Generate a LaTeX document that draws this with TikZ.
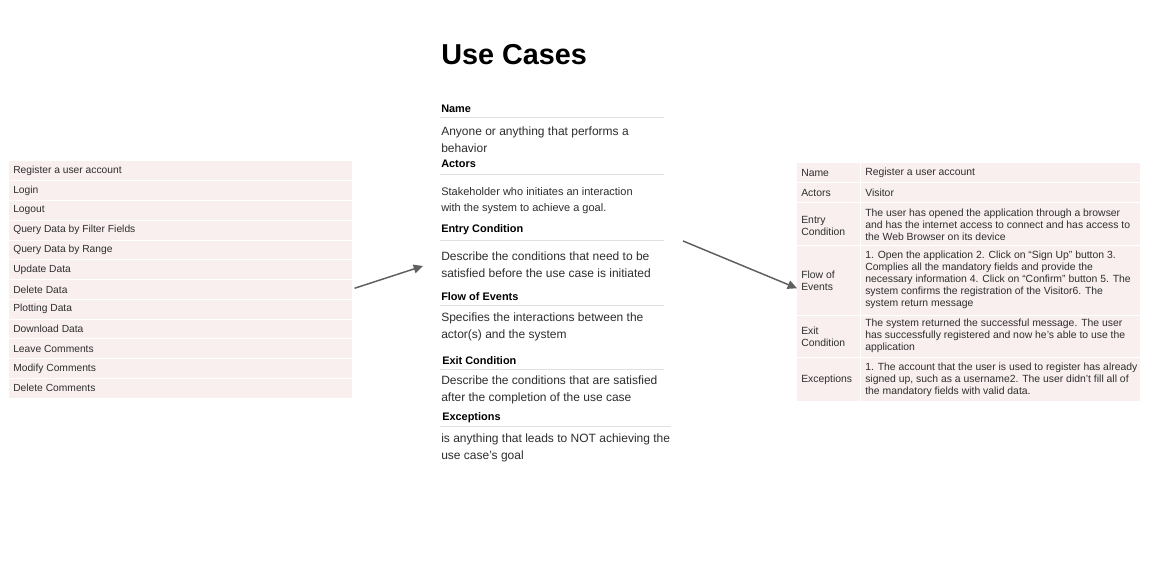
\documentclass[tikz,border=0pt]{standalone}
\usepackage{fontspec}
\setmainfont{Liberation Sans}
\usetikzlibrary{arrows.meta,calc,positioning}
\definecolor{rowbg}{HTML}{F9EFEF}
\definecolor{rulegray}{HTML}{E0E0E0}
\definecolor{ink}{HTML}{2E2E2E}
\definecolor{arrgray}{HTML}{5F5F5F}
\tikzset{item/.style={anchor=west, inner sep=0pt, font=\fontsize{7.7}{9}\selectfont, text=ink},
  head/.style={anchor=west, inner sep=0pt, yshift=-1.1pt, font=\fontsize{8.2}{10}\selectfont\bfseries, text=black},
  desc/.style={anchor=west, inner sep=0pt, align=left, font=\fontsize{9}{12.75}\selectfont, text=ink},
  cell/.style={anchor=west, inner sep=0pt, align=left, font=\fontsize{7.8}{9}\selectfont, text=ink},
  tablebg/.style={fill=rowbg, inner sep=0pt, anchor=north west, minimum width=257.25pt},
  sep/.style={draw=white, line width=0.7pt},
  hrule/.style={draw=rulegray, line width=0.7pt},
  flow/.style={-{Triangle[length=7pt, width=6.5pt]}, line width=1.1pt, draw=arrgray}}

\begin{document}
\begin{tikzpicture}[x=0.75pt, y=-0.75pt]
  \useasboundingbox (0,0) rectangle (1151,565);
  \fill[white] (0,0) rectangle (1151,565);
  \node[anchor=base west, inner sep=0pt, font=\fontsize{21.6}{26}\selectfont\bfseries] (title) at (441,64) {Use Cases};
  % list of use cases (left)
  \node[tablebg, minimum height=177.75pt] (list) at (9,161) {};
  \foreach \i in {1,...,11}
    \draw[sep] (9,{161+\i*19.75}) -- (352,{161+\i*19.75});
  \foreach \t [count=\i] in {Register a user account, Login, Logout, Query Data by Filter Fields,
      Query Data by Range, Update Data, Delete Data, Plotting Data, Download Data,
      Leave Comments, Modify Comments, Delete Comments}
    \node[item] (uc\i) at (13,{161+(\i-0.5)*19.75}) {\t};
  % template fields (middle)
  \node[head] (hname) at (441,107) {Name};
  \draw[hrule] (440,117) -- (664,117);
  \node[desc] (dname) at (441,139.5) {Anyone or anything that performs a\\behavior};
  \node[head] (hact) at (441,162) {Actors};
  \draw[hrule] (440,174) -- (664,174);
  \node[desc, font=\fontsize{8.25}{12}\selectfont] (dact) at (441,200.5) {Stakeholder who initiates an interaction\\with the system to achieve a goal.};
  \node[head] (hentry) at (441,228) {Entry Condition};
  \draw[hrule] (440,240) -- (664,240);
  \node[desc] (dentry) at (441,265) {Describe the conditions that need to be\\satisfied before the use case is initiated};
  \node[head] (hflow) at (441,295) {Flow of Events};
  \draw[hrule] (440,305) -- (664,305);
  \node[desc] (dflow) at (441,327) {Specifies the interactions between the\\actor(s) and the system};
  \node[head] (hexit) at (442,359) {Exit Condition};
  \draw[hrule] (440,369) -- (664,369);
  \node[desc] (dexit) at (441,390) {Describe the conditions that are satisfied\\after the completion of the use case};
  \node[head] (hexc) at (442,416) {Exceptions};
  \draw[hrule] (440,426) -- (671,426);
  \node[desc] (dexc) at (441,448) {is anything that leads to NOT achieving the\\use case's goal};
  % filled-in use case (right)
  \node[tablebg, minimum height=178.5pt] (spec) at (797,163) {};
  \foreach \y in {182,202,245,315,357}
    \draw[sep] (797,\y) -- (1140,\y);
  \draw[sep] (860,163) -- (860,401);
  \node[cell] (kname) at (801,172.5) {Name};
  \node[cell] (vname) at (865,172.5) {Register a user account};
  \node[cell] (kact) at (801,192.5) {Actors};
  \node[cell] (vact) at (865,192.5) {Visitor};
  \node[cell] (kentry) at (801,225.5) {Entry\\Condition};
  \node[cell] (ventry) at (865,224.5) {The user has opened the application through a browser\\and has the internet access to connect and has access to\\the Web Browser on its device};
  \node[cell] (kflow) at (801,280.5) {Flow of\\Events};
  \node[cell] (vflow) at (865,280) {1. Open the application 2. Click on “Sign Up” button 3.\\Complies all the mandatory fields and provide the\\necessary information 4. Click on “Confirm” button 5. The\\system confirms the registration of the Visitor6. The\\system return message};
  \node[cell] (kexit) at (801,336.5) {Exit\\Condition};
  \node[cell] (vexit) at (865,335.5) {The system returned the successful message. The user\\has successfully registered and now he's able to use the\\application};
  \node[cell] (kexc) at (801,379.5) {Exceptions};
  \node[cell] (vexc) at (865,379.5) {1. The account that the user is used to register has already\\signed up, such as a username2. The user didn't fill all of\\the mandatory fields with valid data.};
  % arrows
  \coordinate (a1s) at ($(list.east)+(2,8.5)$);
  \coordinate (a1e) at ($(dentry.west)+(-18,1)$);
  \coordinate (a2s) at ($(hentry.west)+(242,11.5)$);
  \coordinate (a2e) at ($(spec.west)+(0,6)$);
  \draw[flow] (a1s) -- (a1e);
  \draw[flow] (a2s) -- (a2e);
\end{tikzpicture}
\end{document}
